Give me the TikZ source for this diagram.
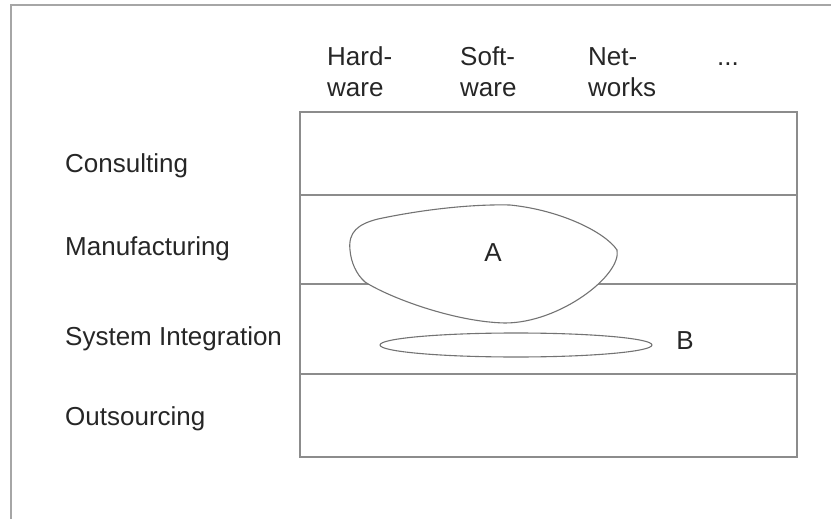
\documentclass[tikz,border=0pt]{standalone}
\usepackage{fontspec}
\setmainfont{Liberation Sans}
\begin{document}
\begin{tikzpicture}[x=1pt,y=-1pt,
  frameline/.style={draw=black!35,line width=1.6pt},
  gridline/.style={draw=black!45,line width=1.5pt},
  blobline/.style={draw=black!55,line width=1.1pt},
  lbl/.style={anchor=base west,inner sep=0pt,font=\fontsize{26}{31}\selectfont,text=black!85},
  clbl/.style={inner sep=0pt,font=\fontsize{26}{31}\selectfont,text=black!85}]
\useasboundingbox (0,0) rectangle (831,519);
% outer frame (top and left edges)
\draw[frameline] (11,519) -- (11,5) -- (831,5);
% matrix box and row separators
\draw[gridline] (300,112) rectangle (797,457);
\draw[gridline] (300,195) -- (797,195);
\draw[gridline] (300,284) -- (797,284);
\draw[gridline] (300,374) -- (797,374);
% column headers
\node[lbl] (hw1) at (327,66) {Hard-};
\node[lbl] (hw2) at (327,97) {ware};
\node[lbl] (sw1) at (460,66) {Soft-};
\node[lbl] (sw2) at (460,97) {ware};
\node[lbl] (nw1) at (588,66) {Net-};
\node[lbl] (nw2) at (588,97) {works};
\node[lbl] (more) at (717,66) {...};
% row labels
\node[lbl] (cons) at (65,172) {Consulting};
\node[lbl] (manu) at (65,255) {Manufacturing};
\node[lbl] (sysi) at (65,345) {System Integration};
\node[lbl] (outs) at (65,425) {Outsourcing};
% region A
\draw[blobline,fill=white] (350,250)
  .. controls (348,232) and (358,224) .. (378,219)
  .. controls (420,210) and (470,204) .. (510,205)
  .. controls (560,210) and (605,232) .. (617,250)
  .. controls (622,275) and (560,323) .. (505,323)
  .. controls (455,322) and (390,298) .. (365,282)
  .. controls (356,274) and (351,262) .. (350,250) -- cycle;
\node[clbl] (a) at (493,253) {A};
% region B
\draw[blobline] (516,345) ellipse [x radius=136,y radius=12];
\node[clbl] (b) at (685,341) {B};
\end{tikzpicture}
\end{document}
